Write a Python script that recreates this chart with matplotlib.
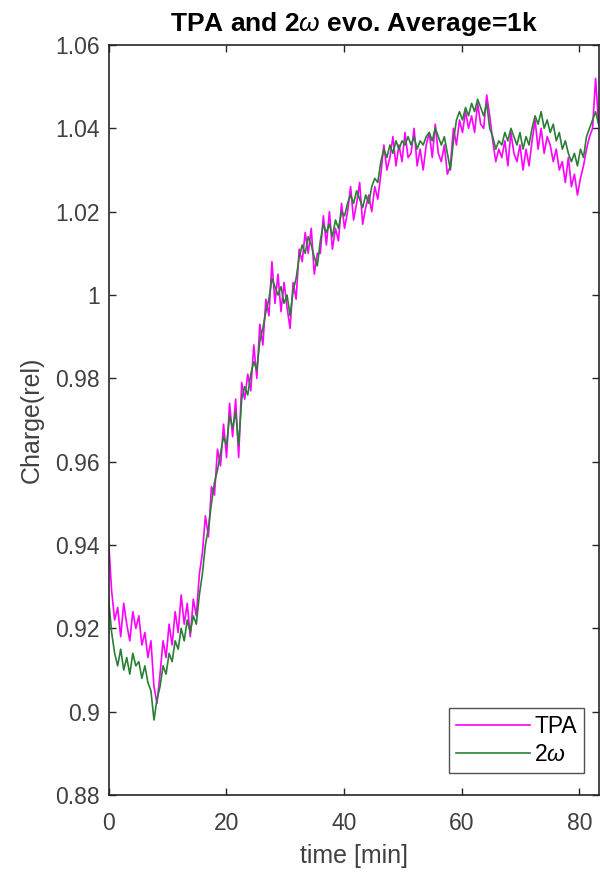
import numpy as np
import matplotlib
matplotlib.use("Agg")
from matplotlib import pyplot as plt

# sample spacing in minutes
time_step = 0.514

# 2w signal (green)
shg = [
    0.927, 0.919, 0.914, 0.911, 0.915, 0.910, 0.913, 0.909, 0.914, 0.911,
    0.912, 0.908, 0.911, 0.907, 0.905, 0.898, 0.903, 0.906, 0.911, 0.909,
    0.914, 0.912, 0.917, 0.915, 0.920, 0.917, 0.922, 0.919, 0.923, 0.921,
    0.928, 0.933, 0.940, 0.944, 0.950, 0.955, 0.958, 0.962, 0.966, 0.964,
    0.971, 0.968, 0.972, 0.964, 0.975, 0.978, 0.976, 0.981, 0.984, 0.982,
    0.989, 0.992, 0.996, 0.999, 1.004, 1.002, 1.000, 1.002, 0.998, 1.000,
    0.995, 1.001, 1.004, 1.009, 1.012, 1.010, 1.014, 1.012, 1.009, 1.007,
    1.013, 1.017, 1.015, 1.017, 1.014, 1.018, 1.016, 1.020, 1.019, 1.022,
    1.024, 1.022, 1.025, 1.023, 1.021, 1.024, 1.022, 1.026, 1.028, 1.027,
    1.032, 1.035, 1.033, 1.036, 1.034, 1.037, 1.035, 1.037, 1.036, 1.038,
    1.036, 1.038, 1.035, 1.037, 1.036, 1.038, 1.039, 1.037, 1.040, 1.038,
    1.036, 1.038, 1.034, 1.030, 1.037, 1.042, 1.044, 1.042, 1.045, 1.043,
    1.046, 1.044, 1.047, 1.045, 1.043, 1.046, 1.040, 1.038, 1.035, 1.037,
    1.036, 1.039, 1.037, 1.040, 1.038, 1.036, 1.039, 1.035, 1.038, 1.036,
    1.040, 1.043, 1.041, 1.044, 1.040, 1.042, 1.039, 1.041, 1.037, 1.039,
    1.035, 1.037, 1.034, 1.032, 1.034, 1.031, 1.035, 1.033, 1.038, 1.040,
    1.042, 1.044, 1.041, 1.043,
]

# TPA signal (magenta)
tpa = [
    0.941, 0.929, 0.922, 0.925, 0.918, 0.926, 0.921, 0.917, 0.924, 0.920,
    0.923, 0.916, 0.919, 0.913, 0.917, 0.906, 0.902, 0.909, 0.917, 0.913,
    0.921, 0.916, 0.924, 0.919, 0.928, 0.921, 0.926, 0.918, 0.927, 0.923,
    0.933, 0.938, 0.947, 0.942, 0.954, 0.952, 0.963, 0.959, 0.969, 0.961,
    0.974, 0.966, 0.975, 0.961, 0.979, 0.975, 0.981, 0.977, 0.988, 0.980,
    0.993, 0.988, 0.999, 0.995, 1.008, 0.998, 1.005, 0.996, 1.003, 0.997,
    0.992, 1.003, 0.999, 1.011, 1.008, 1.015, 1.010, 1.016, 1.005, 1.010,
    1.010, 1.019, 1.012, 1.020, 1.011, 1.016, 1.013, 1.022, 1.016, 1.020,
    1.026, 1.018, 1.022, 1.027, 1.017, 1.021, 1.024, 1.020, 1.026, 1.023,
    1.029, 1.036, 1.030, 1.033, 1.038, 1.031, 1.036, 1.032, 1.039, 1.033,
    1.034, 1.040, 1.031, 1.035, 1.030, 1.036, 1.039, 1.033, 1.041, 1.034,
    1.032, 1.036, 1.029, 1.031, 1.040, 1.036, 1.042, 1.039, 1.044, 1.040,
    1.043, 1.039, 1.046, 1.041, 1.040, 1.048, 1.043, 1.037, 1.032, 1.035,
    1.033, 1.037, 1.031, 1.039, 1.034, 1.032, 1.036, 1.030, 1.035, 1.031,
    1.037, 1.042, 1.035, 1.040, 1.034, 1.038, 1.036, 1.032, 1.035, 1.030,
    1.032, 1.027, 1.033, 1.026, 1.029, 1.024, 1.028, 1.031, 1.035, 1.038,
    1.040, 1.052, 1.041, 1.046,
]

xticks = [0, 20, 40, 60, 80]
yticks = [0.88, 0.9, 0.92, 0.94, 0.96, 0.98, 1, 1.02, 1.04, 1.06]
ytick_labels = ["0.88", "0.9", "0.92", "0.94", "0.96", "0.98", "1", "1.02", "1.04", "1.06"]

time = np.arange(len(shg)) * time_step

plt.rcParams["font.family"] = ["Liberation Sans", "DejaVu Sans"]
plt.rcParams["mathtext.fontset"] = "custom"
plt.rcParams["mathtext.it"] = "Liberation Sans:italic"
plt.rcParams["mathtext.rm"] = "Liberation Sans"

grey = "#262626"
tick_grey = "#404040"

fig = plt.figure(figsize=(6, 8.72), dpi=100)
ax = fig.add_axes([0.181, 0.0883, 0.817, 0.8601])

ax.plot(time, tpa, color="#ff00ff", lw=1.2, label="TPA")
ax.plot(time, shg, color="#2a7f35", lw=1.2, label=r"2$\mathit{\omega}$")

ax.set_xlim(0, 83.3)
ax.set_ylim(0.88, 1.06)
ax.set_xticks(xticks)
ax.set_yticks(yticks)
ax.set_yticklabels(ytick_labels)

ax.tick_params(direction="in", length=5, width=1, colors=grey,
               labelcolor=tick_grey, labelsize=16.5, top=True, right=True)
ax.tick_params(axis="x", pad=12)
ax.tick_params(axis="y", pad=6.5)
for s in ax.spines.values():
    s.set_color(grey)
    s.set_linewidth(1.2)

ax.set_xlabel("time [min]", fontsize=18, color=tick_grey, labelpad=7)
ax.set_ylabel("Charge(rel)", fontsize=18, color=tick_grey, labelpad=8)
ax.set_title(r"TPA and 2$\mathit{\omega}$ evo. Average=1k", fontsize=19,
             fontweight="bold", color="black", pad=10)

leg = ax.legend(loc="lower right", bbox_to_anchor=(0.969, 0.029), borderaxespad=0,
                fontsize=16.5, frameon=True, fancybox=False, handlelength=3.2,
                handletextpad=0.2, borderpad=0.3, labelspacing=0.25)
leg.get_frame().set_edgecolor(grey)
leg.get_frame().set_linewidth(1.0)

fig.savefig("out.png", dpi=100)
